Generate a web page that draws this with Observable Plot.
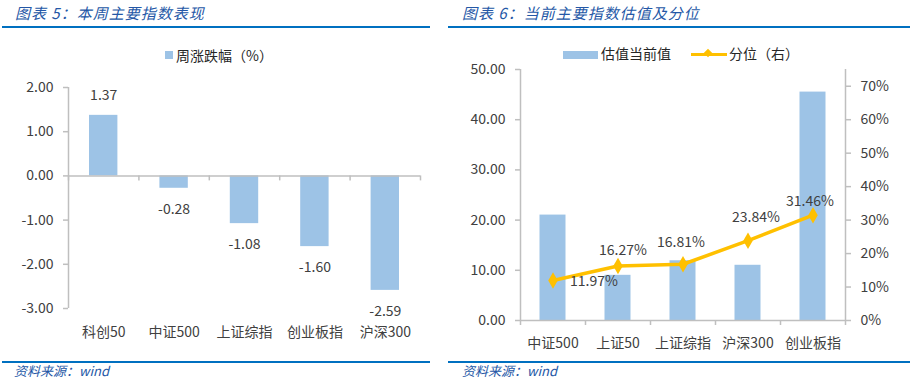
<!DOCTYPE html>
<html><head><meta charset="utf-8">
<script src="https://cdn.jsdelivr.net/npm/d3@7"></script>
<script src="https://cdn.jsdelivr.net/npm/@observablehq/plot@0.6"></script>
<style>
html,body{margin:0;padding:0;background:#fff;}
body{width:910px;height:389px;position:relative;overflow:hidden;font-family:"Noto Sans CJK SC","Noto Sans",sans-serif;}
.abs{position:absolute;white-space:nowrap;}
.title{font-style:italic;color:#2457a6;font-size:15px;line-height:15px;letter-spacing:1px;}
.src{font-style:italic;color:#2457a6;font-size:13px;line-height:13px;}
.rule{position:absolute;height:2px;background:#0070C0;}
.leg{font-size:14px;line-height:14px;color:#262626;}
</style>
</head><body>
<div class="abs title" style="left:15px;top:5px;">图表 5：本周主要指数表现</div>
<div class="abs title" style="left:462px;top:5px;">图表 6：当前主要指数估值及分位</div>
<div class="rule" style="left:2px;top:26px;width:428px;"></div>
<div class="rule" style="left:448px;top:26px;width:462px;"></div>
<div class="rule" style="left:2px;top:361px;width:428px;"></div>
<div class="rule" style="left:448px;top:361px;width:462px;"></div>
<div class="abs src" style="left:14px;top:364px;">资料来源：wind</div>
<div class="abs src" style="left:462px;top:364px;">资料来源：wind</div>

<div class="abs" style="left:165px;top:51px;width:8px;height:8px;background:#9DC3E6;"></div>
<div class="abs leg" style="left:176px;top:48px;">周涨跌幅（%）</div>

<div class="abs" style="left:563px;top:51px;width:35px;height:8px;background:#9DC3E6;"></div>
<div class="abs leg" style="left:601px;top:46px;">估值当前值</div>
<div class="abs" style="left:691px;top:53px;width:36px;height:3px;background:#FFC000;"></div>
<div class="abs" style="left:705px;top:50px;width:6px;height:6px;background:#FFC000;transform:rotate(45deg);"></div>
<div class="abs leg" style="left:729px;top:46px;">分位（右）</div>

<div id="left" class="abs" style="left:0px;top:40px;"></div>
<div id="right" class="abs" style="left:455px;top:40px;"></div>

<script>
// ---- Chart 5 data ----
const weekCategories = ["科创50","中证500","上证综指","创业板指","沪深300"];
const weekChange = [1.37, -0.28, -1.08, -1.60, -2.59];
const weekTicks = [2, 1, 0, -1, -2, -3];

// ---- Chart 6 data ----
const valCategories = ["中证500","上证50","上证综指","沪深300","创业板指"];
const valCurrent = [21.0, 9.0, 11.9, 11.0, 45.5];
const valPercentile = [0.1197, 0.1627, 0.1681, 0.2384, 0.3146];
const valLeftTicks = [0, 10, 20, 30, 40, 50];
const valRightTicks = [0, 0.1, 0.2, 0.3, 0.4, 0.5, 0.6, 0.7];

const GRAY = "#bfbfbf";
const TXT = "#404040";
const BAR = "#9DC3E6";
const ORANGE = "#FFC000";
const FONT = "'Noto Sans CJK SC','Noto Sans',sans-serif";

// ---------- Left chart ----------
const weekData = weekCategories.map((c, i) => ({cat: c, i, v: weekChange[i]}));
const bounds1 = d3.range(weekCategories.length + 1);
const left = Plot.plot({
  width: 450, height: 315,
  marginTop: 47, marginBottom: 47, marginLeft: 68, marginRight: 30,
  style: {fontFamily: FONT, fontSize: "14px", color: TXT, background: "transparent"},
  x: {type: "linear", domain: [0, weekCategories.length], axis: null},
  y: {domain: [-3, 2], axis: null},
  marks: [
    Plot.rectY(weekData, {x1: "i", x2: d => d.i + 1, y1: 0, y2: "v", fill: BAR, insetLeft: 21, insetRight: 21}),
    Plot.ruleX([0], {y1: -3, y2: 2, stroke: GRAY, strokeWidth: 1.5}),
    Plot.ruleY([0], {stroke: GRAY, strokeWidth: 1.5}),
    Plot.ruleX(bounds1, {x: d => d, y1: 0, y2: 0, insetBottom: -5, stroke: GRAY, strokeWidth: 1.5}),
    Plot.axisY({ticks: weekTicks, tickFormat: d => d.toFixed(2), tickSize: 5, tickPadding: 10, stroke: GRAY, fill: TXT, strokeWidth: 1.5, fontSize: 14, label: null}),
    Plot.text(weekData, {x: d => d.i + 0.5, y: "v", text: d => d.v.toFixed(2), dy: -20, filter: d => d.v >= 0, fill: TXT, fontSize: 14}),
    Plot.text(weekData, {x: d => d.i + 0.5, y: "v", text: d => d.v.toFixed(2), dy: 21, filter: d => d.v < 0, fill: TXT, fontSize: 14}),
    Plot.text(weekData, {x: d => d.i + 0.5, y: -3, text: "cat", dy: 24, fill: TXT, fontSize: 14})
  ]
});
document.getElementById("left").appendChild(left);

// ---------- Right chart ----------
const pctToLeft = d3.scaleLinear([0, 0.75], [0, 50]);
const valData = valCategories.map((c, i) => ({cat: c, i, v: valCurrent[i], p: valPercentile[i]}));
const bounds2 = d3.range(valCategories.length + 1);
const labelOffsets = [[41, 1], [5, -16], [-2, -22], [8, -23], [-3, -14]];
const right = Plot.plot({
  width: 455, height: 318,
  marginTop: 29, marginBottom: 38, marginLeft: 65, marginRight: 65,
  style: {fontFamily: FONT, fontSize: "14px", color: TXT, background: "transparent"},
  x: {type: "linear", domain: [0, valCategories.length], axis: null},
  y: {domain: [0, 50], axis: null},
  marks: [
    Plot.rectY(valData, {x1: "i", x2: d => d.i + 1, y1: 0, y2: "v", fill: BAR, insetLeft: 19.5, insetRight: 19.5}),
    Plot.ruleX([0, valCategories.length], {y1: 0, y2: 50, stroke: GRAY, strokeWidth: 1.5}),
    Plot.ruleY([0], {stroke: GRAY, strokeWidth: 1.5}),
    Plot.ruleX(bounds2, {x: d => d, y1: 0, y2: 0, insetBottom: -5, stroke: GRAY, strokeWidth: 1.5}),
    Plot.axisY({ticks: valLeftTicks, tickFormat: d => d.toFixed(2), tickSize: 5, tickPadding: 10, stroke: GRAY, fill: TXT, strokeWidth: 1.5, fontSize: 14, label: null}),
    Plot.axisY({anchor: "right", ticks: valRightTicks.map(t => pctToLeft(t)), tickFormat: d => Math.round(pctToLeft.invert(d) * 100) + "%", tickSize: 5, tickPadding: 10, stroke: GRAY, fill: TXT, strokeWidth: 1.5, fontSize: 14, label: null}),
    Plot.line(valData, {x: d => d.i + 0.5, y: d => pctToLeft(d.p), stroke: ORANGE, strokeWidth: 3.5}),
    Plot.dot(valData, {x: d => d.i + 0.5, y: d => pctToLeft(d.p), symbol: "diamond", r: 5, fill: ORANGE}),
    ...valData.map((d, k) => Plot.text([d], {x: e => e.i + 0.5, y: e => pctToLeft(e.p), text: e => (e.p * 100).toFixed(2) + "%", dx: labelOffsets[k][0], dy: labelOffsets[k][1], fill: TXT, fontSize: 14})),
    Plot.text(valData, {x: d => d.i + 0.5, y: 0, text: "cat", dy: 23, fill: TXT, fontSize: 14})
  ]
});
document.getElementById("right").appendChild(right);
</script>
</body></html>
